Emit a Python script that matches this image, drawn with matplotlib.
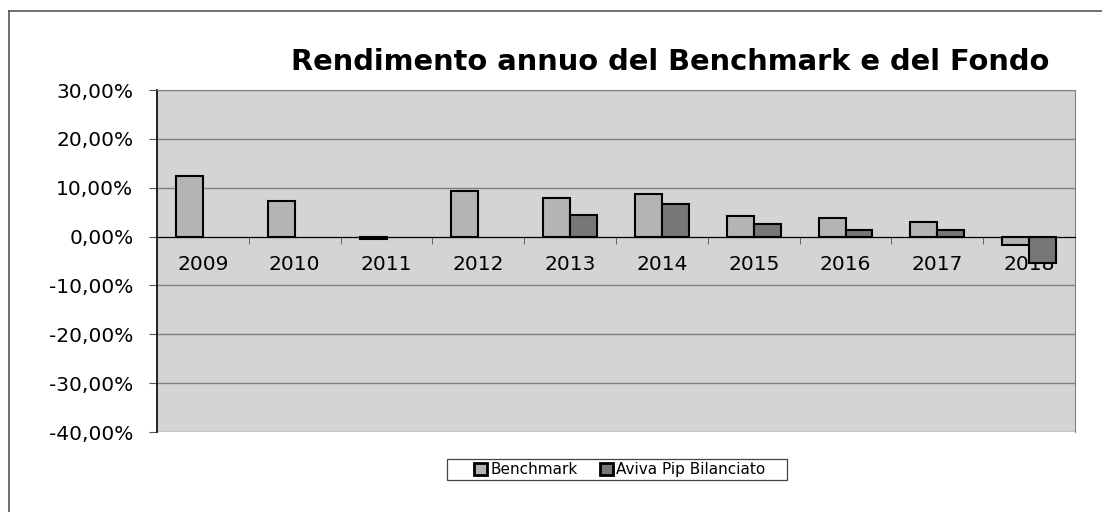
import numpy as np
import matplotlib.pyplot as plt
from matplotlib.patches import Rectangle
from matplotlib.ticker import FuncFormatter, FixedLocator

anni = ['2009', '2010', '2011', '2012', '2013', '2014', '2015', '2016', '2017', '2018']
benchmark = [12.3, 7.2, -0.5, 9.3, 7.8, 8.8, 4.2, 3.7, 3.0, -1.8]
fondo = [np.nan, np.nan, np.nan, np.nan, 4.5, 6.75, 2.5, 1.4, 1.3, -5.5]

plt.rcParams['font.family'] = ['DejaVu Sans']

fig = plt.figure(figsize=(11.02, 5.12), dpi=100)
ax = fig.add_axes([157 / 1102, 1 - 432 / 512, (1075 - 157) / 1102, (432 - 90) / 512])

x = np.arange(len(anni))
w = 0.294
ax.bar(x - w / 2, benchmark, w, color='#b4b4b4', edgecolor='black', linewidth=1.5,
       label='Benchmark', zorder=3)
ax.bar(x + w / 2, fondo, w, color='#777777', edgecolor='black', linewidth=1.5,
       label='Aviva Pip Bilanciato', zorder=3)

ax.set_facecolor('#d3d4d6')
ax.set_xlim(-0.5, len(anni) - 0.5)
ax.set_ylim(-40, 30)
ax.set_yticks(np.arange(-40, 31, 10))
ax.yaxis.set_major_formatter(FuncFormatter(lambda v, p: f'{v:.2f}%'.replace('.', ',')))
ax.grid(axis='y', color='#808080', linewidth=1, zorder=1)
ax.tick_params(axis='y', labelsize=14.5, length=6, color='#555555', pad=11)

ax.spines['bottom'].set_position(('data', 0))
ax.spines['bottom'].set_zorder(4)
ax.spines['top'].set_color('#808080')
ax.spines['right'].set_color('#808080')
ax.spines['left'].set_linewidth(1.2)
ax.set_xticks(x)
ax.set_xticklabels(anni)
ax.xaxis.set_minor_locator(FixedLocator(np.arange(0.5, len(anni) - 0.5, 1)))
ax.tick_params(axis='x', which='major', length=0, labelsize=14.5, pad=13)
ax.tick_params(axis='x', which='minor', length=5, color='#555555')
for lab in ax.get_xticklabels():
    lab.set_zorder(5)

fig.text(670 / 1102, 1 - 62 / 512, 'Rendimento annuo del Benchmark e del Fondo',
         ha='center', va='center', fontsize=20.8, fontweight='bold')

# legenda senza cornice + riquadro disegnato a parte
leg = ax.legend(loc='center', bbox_to_anchor=(620 / 1102, 1 - 469.5 / 512),
                bbox_transform=fig.transFigure, ncol=2, fontsize=11, frameon=False,
                handlelength=0.85, handleheight=0.85,
                handletextpad=0.2, columnspacing=1.5, borderpad=0, borderaxespad=0)
for h in leg.legend_handles:
    h.set_linewidth(2)
fig.add_artist(Rectangle((447 / 1102, 1 - 480 / 512), 340 / 1102, 21 / 512,
                         transform=fig.transFigure, fill=False, edgecolor='#444444',
                         linewidth=0.9))

# cornice esterna
fig.add_artist(plt.Line2D([9 / 1102, 1], [1 - 11 / 512, 1 - 11 / 512], color='#555555', linewidth=1.2))
fig.add_artist(plt.Line2D([9 / 1102, 9 / 1102], [0, 1 - 11 / 512], color='#555555', linewidth=1.2))

fig.savefig('out.png', dpi=100)
